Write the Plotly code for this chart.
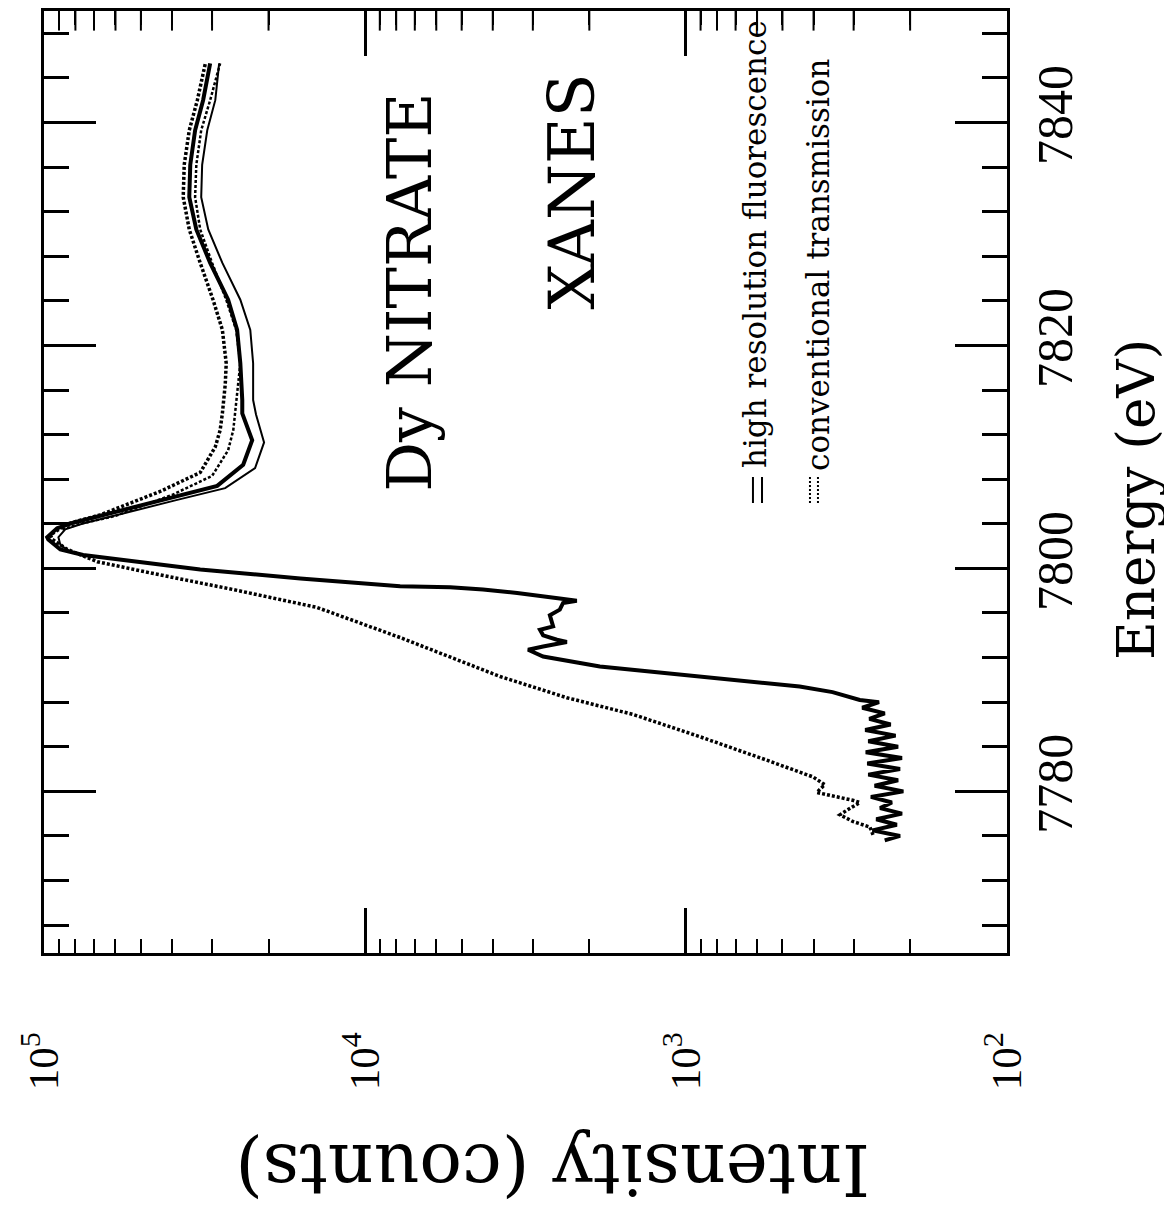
import plotly.graph_objects as go

# ---------------- data ----------------
# high resolution fluorescence, main trace
fluor_a_energy = [7775.6, 7776.0, 7776.5, 7777.0, 7777.5, 7778.0, 7778.5, 7779.0, 7779.5, 7780.0,
                  7780.5, 7781.0, 7781.5, 7782.0, 7782.5, 7783.0, 7783.5, 7784.0, 7784.5, 7785.0,
                  7785.5, 7786.0, 7786.5, 7787.0, 7787.5, 7788.0,
                  7788.2, 7788.9, 7789.4, 7790.0, 7790.6, 7791.2, 7792.1, 7792.7,
                  7793.0, 7793.4, 7793.6, 7794.0, 7794.5, 7794.8, 7795.8, 7796.3, 7796.9, 7797.1,
                  7797.3, 7797.8, 7798.1, 7798.3, 7798.4, 7799.1, 7799.9, 7800.6, 7801.2, 7801.7,
                  7802.6, 7802.8, 7803.6, 7804.1, 7805.1, 7806.3, 7807.4, 7809.3, 7811.5, 7813.9,
                  7815.1, 7818.4, 7821.4, 7824.1, 7827.4, 7830.4, 7833.3, 7836.2, 7839.3, 7842.0,
                  7845.3]
fluor_a_counts = [240, 215, 262, 220, 255, 212, 248, 228, 265, 210,
                  258, 218, 270, 215, 272, 212, 275, 218, 270, 222,
                  276, 230, 268, 240, 282, 250,
                  287, 349, 442, 715, 1146, 1854, 2786, 3105,
                  2786, 2350, 2523, 2786, 2850, 2594, 2655, 2472, 2415, 2188,
                  2472, 3357, 4290, 5430, 7780, 15920, 32660, 52840, 75680, 89130,
                  97200, 97950, 91200, 81280, 59290, 41400, 28910, 23990, 22490, 24150,
                  24150, 24490, 25060, 26730, 30410, 33590, 35330, 35080, 33880, 31990,
                  30410]

# high resolution fluorescence, second (double) trace past the edge
fluor_b_energy = [7801.4, 7802.1, 7802.8, 7803.5, 7804.0, 7805.0, 7806.1, 7807.2, 7809.0, 7811.3,
                  7813.8, 7815.1, 7818.4, 7821.4, 7824.1, 7827.4, 7830.4, 7833.3, 7836.2, 7839.3,
                  7842.0, 7845.3]
fluor_b_counts = [81850, 89130, 90370, 86060, 76230, 55980, 39080, 27310, 22030, 20650,
                  21880, 22340, 22340, 22800, 24490, 27860, 30830, 32430, 32210, 31050,
                  29310, 28510]

# conventional transmission, main trace
trans_a_energy = [7776.1, 7776.8, 7777.3, 7777.9, 7778.3, 7779.0, 7779.2, 7779.9, 7780.6, 7781.3,
                  7782.8, 7784.9, 7786.9, 7788.4, 7790.3, 7793.8, 7796.5, 7798.1, 7799.6, 7800.6,
                  7801.7, 7802.6, 7803.0, 7803.6, 7804.0, 7804.8, 7806.9, 7808.6, 7810.9, 7812.4,
                  7813.9, 7816.5, 7818.4, 7821.4, 7824.1, 7827.4, 7830.4, 7833.3, 7836.2, 7839.3,
                  7842.0, 7845.3]
trans_a_counts = [261, 267, 302, 331, 315, 287, 302, 391, 369, 402,
                  560, 904, 1462, 2350, 3793, 7780, 14130, 25760, 46770, 68390,
                  84750, 94420, 95760, 89130, 84750, 66990, 43550, 32660, 29310, 28310,
                  27860, 27290, 27100, 27860, 29790, 32660, 35330, 36900, 36640, 35330,
                  33340, 31480]

# conventional transmission, second (double) trace past the edge
trans_b_energy = [7803.5, 7804.0, 7804.7, 7806.6, 7808.3, 7810.6, 7812.4, 7813.9, 7816.5, 7818.4,
                  7821.4, 7824.1, 7827.4, 7830.4, 7833.3, 7836.2, 7839.3, 7842.0, 7845.3]
trans_b_counts = [87900, 77270, 60120, 39900, 29990, 26730, 25760, 25410, 24890, 24490,
                  25230, 27100, 29990, 32660, 33880, 33590, 32430, 30410, 28310]

intensity_tickvals = [1e2, 1e3, 1e4, 1e5]
intensity_ticktext = ["10<sup>2</sup>", "10<sup>3</sup>", "10<sup>4</sup>", "10<sup>5</sup>"]
# minor tick positions of the log axis (2..9 in each decade), repeated on the top edge
intensity_minor_vals = [m * 10 ** d for d in (2, 3, 4) for m in range(2, 10)]

SERIF = "DejaVu Serif"
NUMF = "Liberation Serif"
E_RANGE = [7765.5, 7850]
I_RANGE = [5.001, 1.999]

fig = go.Figure()
fig.add_trace(go.Scatter(x=fluor_a_counts, y=fluor_a_energy, mode="lines",
                         line=dict(color="black", width=4), showlegend=False))
fig.add_trace(go.Scatter(x=fluor_b_counts, y=fluor_b_energy, mode="lines",
                         line=dict(color="black", width=2), showlegend=False))
fig.add_trace(go.Scatter(x=trans_a_counts, y=trans_a_energy, mode="lines",
                         line=dict(color="black", width=3.5, dash="3px,2px"), showlegend=False))
fig.add_trace(go.Scatter(x=trans_b_counts, y=trans_b_energy, mode="lines",
                         line=dict(color="black", width=2.5, dash="3px,2px"), showlegend=False))
# minor ticks along the top frame edge (half of each tick mark is clipped by the axes)
fig.add_trace(go.Scatter(x=intensity_minor_vals, y=[E_RANGE[1]] * len(intensity_minor_vals),
                         mode="markers", cliponaxis=True, hoverinfo="skip", showlegend=False,
                         marker=dict(symbol="line-ns", size=28, color="black",
                                     line=dict(width=2, color="black"))))

fig.update_layout(
    width=1172, height=1212,
    margin=dict(l=36, r=173, t=3, b=267),
    paper_bgcolor="white", plot_bgcolor="white",
    showlegend=False,
    xaxis=dict(
        type="log", range=I_RANGE, autorange=False, automargin=False,
        tickmode="array", tickvals=intensity_tickvals, ticktext=intensity_ticktext,
        ticks="inside", ticklen=45, tickwidth=2.5, tickcolor="black",
        minor=dict(dtick="D1", ticks="inside",
                   ticklen=14, tickwidth=2, tickcolor="black", showgrid=False),
        showgrid=False, zeroline=False,
        showline=True, linewidth=3, linecolor="black", mirror="allticks",
        tickangle=-90, ticklabelstandoff=59,
        tickfont=dict(family=NUMF, size=43, color="black"),
    ),
    yaxis=dict(
        range=E_RANGE, autorange=False, side="right", automargin=False,
        tickmode="linear", tick0=7780, dtick=20,
        ticks="inside", ticklen=52, tickwidth=2.5, tickcolor="black",
        minor=dict(tick0=7780, dtick=4, ticks="inside", ticklen=25, tickwidth=2.5,
                   tickcolor="black", showgrid=False),
        showline=True, linewidth=3, linecolor="black", mirror="allticks",
        showgrid=False, zeroline=False,
        tickangle=-90, ticklabelstandoff=2,
        tickfont=dict(family=NUMF, size=50, color="black"),
    ),
)

ann = [
    dict(text="Energy (eV)", x=1.134, y=0.481, textangle=-90, font=dict(family=SERIF, size=53)),
    dict(text="Intensity (counts)", x=0.5275, y=-0.230, textangle=180, font=dict(family=SERIF, size=71)),
    dict(text="Dy NITRATE", x=0.380, y=0.702, textangle=-90, font=dict(family=SERIF, size=62)),
    dict(text="XANES", x=0.548, y=0.808, textangle=-90, font=dict(family=SERIF, size=64)),
]
for a in ann:
    fig.add_annotation(xref="paper", yref="paper", showarrow=False,
                       xanchor="center", yanchor="middle",
                       x=a["x"], y=a["y"], text=a["text"], textangle=a["textangle"],
                       font=dict(color="black", **a["font"]))

fig.add_annotation(xref="paper", yref="paper", showarrow=False, xanchor="center", yanchor="bottom",
                   x=0.7383, y=0.5127, text="high resolution fluorescence", textangle=-90,
                   font=dict(family=SERIF, size=31, color="black"))
fig.add_annotation(xref="paper", yref="paper", showarrow=False, xanchor="center", yanchor="bottom",
                   x=0.8037, y=0.5096, text="conventional transmission", textangle=-90,
                   font=dict(family=SERIF, size=31, color="black"))

for xv in (0.7362, 0.7456):
    fig.add_shape(type="line", xref="paper", yref="paper", x0=xv, x1=xv, y0=0.4777, y1=0.5053,
                  line=dict(color="black", width=2))
for xv in (0.7954, 0.8037):
    fig.add_shape(type="line", xref="paper", yref="paper", x0=xv, x1=xv, y0=0.4777, y1=0.5053,
                  line=dict(color="black", width=2, dash="2px,2px"))

fig.write_html("out.html")
